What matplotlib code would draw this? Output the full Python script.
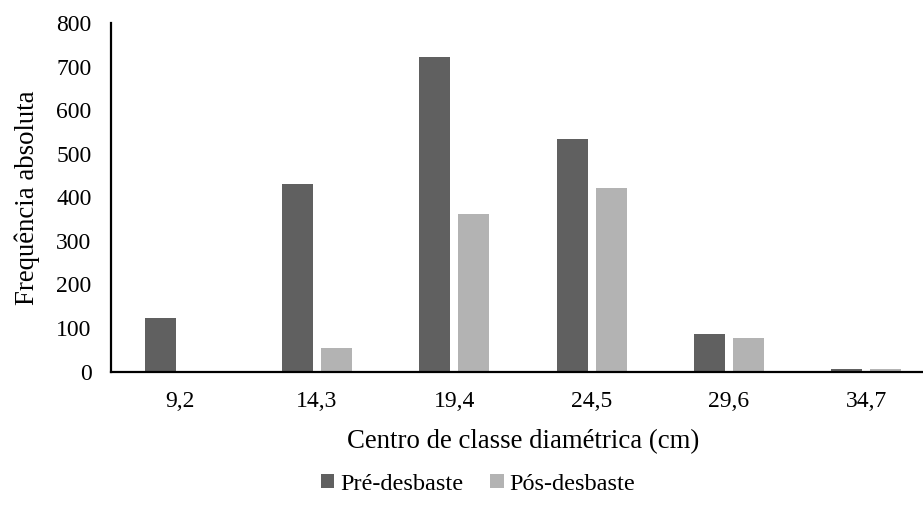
import matplotlib
matplotlib.use("Agg")
import matplotlib.pyplot as plt
import numpy as np

plt.rcParams['font.family'] = ['Liberation Serif', 'DejaVu Serif']

classes = ["9,2", "14,3", "19,4", "24,5", "29,6", "34,7"]
pre_desbaste = [124, 430, 722, 534, 85, 6]
pos_desbaste = [0, 55, 361, 422, 77, 5]
y_ticks = [0, 100, 200, 300, 400, 500, 600, 700, 800]

dark = "#606060"
light = "#b3b3b3"

fig = plt.figure(figsize=(9.23, 5.16), dpi=100)
ax = fig.add_axes([0.1203, 0.280, 0.8927, 0.6754])

x = np.arange(len(classes))
w = 0.226
off = 0.142
ax.bar(x - off, pre_desbaste, w, color=dark, label="Pré-desbaste")
ax.bar(x + off, pos_desbaste, w, color=light, label="Pós-desbaste")

ax.set_xlim(-0.5, len(classes) - 0.5)
ax.set_ylim(0, 800)
ax.set_yticks(y_ticks)
ax.set_xticks(x)
ax.set_xticklabels(classes)

for s in ["top", "right"]:
    ax.spines[s].set_visible(False)
ax.spines["left"].set_linewidth(1.6)
ax.spines["bottom"].set_linewidth(1.6)
ax.tick_params(axis="both", length=0, labelsize=17)
ax.tick_params(axis="y", pad=14)
ax.tick_params(axis="x", pad=14)

ax.set_ylabel("Frequência absoluta", fontsize=19.3, labelpad=12)
ax.set_xlabel("Centro de classe diamétrica (cm)", fontsize=19.3, labelpad=12)

fig.legend(loc="center", bbox_to_anchor=(0.518, 0.062), ncol=2, frameon=False,
           fontsize=17.5, handlelength=0.55, handleheight=0.55, handletextpad=0.25,
           columnspacing=1.1)

fig.savefig("out.png", dpi=100)
